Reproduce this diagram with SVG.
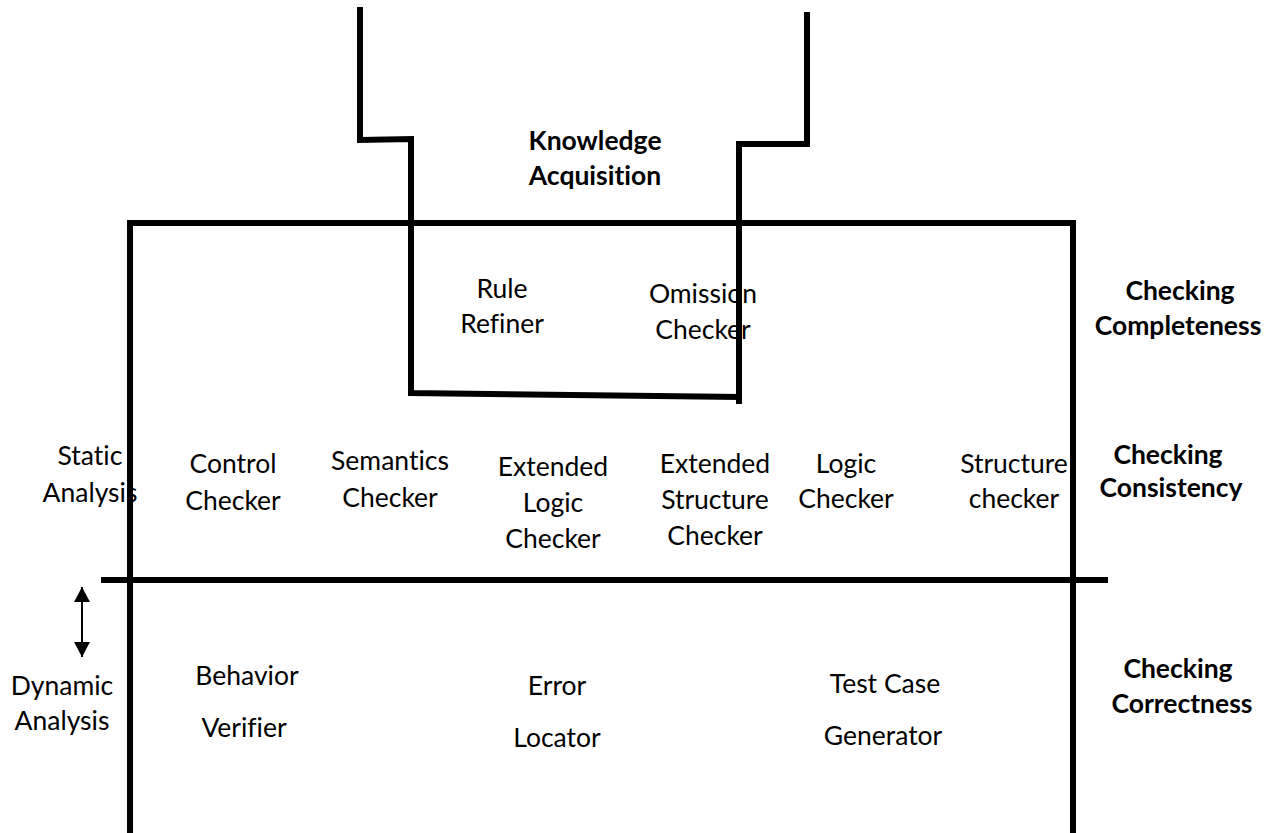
<svg xmlns="http://www.w3.org/2000/svg" width="1280" height="833" viewBox="0 0 1280 833">
<defs>
<style>
.t{font-family:Lato,"Open Sans","Liberation Sans",sans-serif;font-size:26.5px;fill:#000;text-anchor:middle;font-variant-ligatures:none}
.b{font-weight:bold}
.ln{fill:none;stroke:#000;stroke-width:6;stroke-linecap:square}
.thin{fill:none;stroke:#000;stroke-width:2}
</style>
<marker id="ah" viewBox="0 0 15 16" refX="15" refY="8" markerWidth="15" markerHeight="16" markerUnits="userSpaceOnUse" orient="auto-start-reverse">
<path d="M0,0 L15,8 L0,16 Z" fill="#000"/>
</marker>
</defs>
<rect width="1280" height="833" fill="#fff"/>
<g id="connectors">
<path class="ln" d="M130,833 L130,223 L1073,223 L1073,833"/>
<path class="ln" d="M104,580 L1105,580"/>
<path class="ln" d="M360,10 L360,140 L411,139 L411,393 L738,397"/>
<path class="ln" d="M739,401 L739,144 L807,144 L807,15"/>
<line class="thin" x1="82" y1="587" x2="82" y2="657" marker-start="url(#ah)" marker-end="url(#ah)"/>
</g>
<g id="knowledge-acquisition"><text class="t b" x="595" y="150">Knowledge</text><text class="t b" x="595" y="185">Acquisition</text></g>
<g id="rule-refiner"><text class="t" x="502" y="298">Rule</text><text class="t" x="502" y="333">Refiner</text></g>
<g id="omission-checker"><text class="t" x="703" y="303">Omission</text><text class="t" x="703" y="339">Checker</text></g>
<g id="checking-completeness"><text class="t b" x="1180" y="300">Checking</text><text class="t b" x="1178" y="335">Completeness</text></g>
<g id="checking-consistency"><text class="t b" x="1168" y="464">Checking</text><text class="t b" x="1171" y="497">Consistency</text></g>
<g id="static-analysis"><text class="t" x="90" y="465">Static</text><text class="t" x="90" y="502">Analysis</text></g>
<g id="control-checker"><text class="t" x="233" y="473">Control</text><text class="t" x="233" y="510">Checker</text></g>
<g id="semantics-checker"><text class="t" x="390" y="470">Semantics</text><text class="t" x="390" y="507">Checker</text></g>
<g id="extended-logic-checker"><text class="t" x="553" y="476">Extended</text><text class="t" x="553" y="512">Logic</text><text class="t" x="553" y="548">Checker</text></g>
<g id="extended-structure-checker"><text class="t" x="715" y="473">Extended</text><text class="t" x="715" y="509">Structure</text><text class="t" x="715" y="545">Checker</text></g>
<g id="logic-checker"><text class="t" x="846" y="473">Logic</text><text class="t" x="846" y="508">Checker</text></g>
<g id="structure-checker"><text class="t" x="1014" y="473">Structure</text><text class="t" x="1014" y="508">checker</text></g>
<g id="dynamic-analysis"><text class="t" x="62" y="695">Dynamic</text><text class="t" x="62" y="730">Analysis</text></g>
<g id="behavior-verifier"><text class="t" x="247" y="685">Behavior</text><text class="t" x="244" y="737">Verifier</text></g>
<g id="error-locator"><text class="t" x="557" y="695">Error</text><text class="t" x="557" y="747">Locator</text></g>
<g id="test-case-generator"><text class="t" x="885" y="693">Test Case</text><text class="t" x="883" y="745">Generator</text></g>
<g id="checking-correctness"><text class="t b" x="1178" y="678">Checking</text><text class="t b" x="1182" y="713">Correctness</text></g>
</svg>
